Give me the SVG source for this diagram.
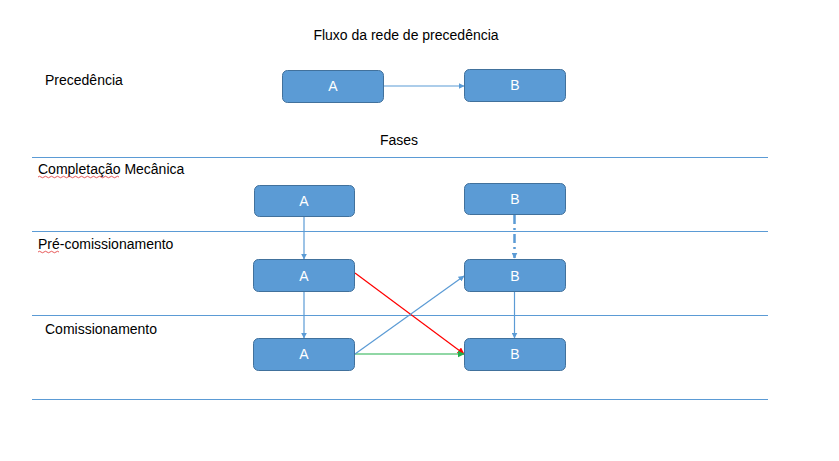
<svg xmlns="http://www.w3.org/2000/svg" width="839" height="461" viewBox="0 0 839 461">
<defs>
<style>
.box{fill:#5B9BD5;stroke:#41719C;stroke-width:1}
.bt{font-family:"Liberation Sans",Arial,sans-serif;font-size:14px;fill:#fff;text-anchor:middle}
.lbl{font-family:"Liberation Sans",Arial,sans-serif;font-size:14px;fill:#000}
.sep{stroke:#5B9BD5;stroke-width:1}
.conn{fill:none;stroke-width:1.2}
.dash{fill:none;stroke-width:2.5;stroke-dasharray:9,4,2,4}
.sq{fill:none;stroke:#E03030;stroke-width:0.8}
</style>
<marker id="ab" viewBox="0 0 10 10" refX="9" refY="5" markerWidth="6" markerHeight="6" orient="auto" markerUnits="userSpaceOnUse"><path d="M0,0 L10,5 L0,10 z" fill="#5B9BD5"/></marker>
<marker id="ar" viewBox="0 0 10 10" refX="9" refY="5" markerWidth="7" markerHeight="7" orient="auto" markerUnits="userSpaceOnUse"><path d="M0,0 L10,5 L0,10 z" fill="#FF0000"/></marker>
<marker id="ag" viewBox="0 0 10 10" refX="9" refY="5" markerWidth="7" markerHeight="7" orient="auto" markerUnits="userSpaceOnUse"><path d="M0,0 L10,5 L0,10 z" fill="#22B04C"/></marker>
</defs>
<rect width="839" height="461" fill="#fff"/>
<g id="labels">
<text class="lbl" x="406" y="40" text-anchor="middle">Fluxo da rede de precedência</text>
<text class="lbl" x="45" y="85">Precedência</text>
<text class="lbl" x="399" y="145" text-anchor="middle">Fases</text>
<text class="lbl" x="38" y="174">Completação Mecânica</text>
<text class="lbl" x="38" y="249">Pré-comissionamento</text>
<text class="lbl" x="45" y="334">Comissionamento</text>
<path class="sq" d="M38,177 q1.5,-1.5 3,0 t3,0 t3,0 t3,0 t3,0 t3,0 t3,0 t3,0 t3,0 t3,0 t3,0 t3,0 t3,0 t3,0 t3,0 t3,0 t3,0 t3,0 t3,0 t3,0 t3,0 t3,0 t3,0 t3,0 t3,0 t3,0 t3,0"/>
<path class="sq" d="M38,252 q1.5,-1.5 3,0 t3,0 t3,0 t3,0 t3,0 t3,0 t3,0"/>
</g>
<g id="separators">
<line class="sep" x1="32" y1="157.5" x2="768" y2="157.5"/>
<line class="sep" x1="32" y1="231.5" x2="768" y2="231.5"/>
<line class="sep" x1="32" y1="315.5" x2="768" y2="315.5"/>
<line class="sep" x1="32" y1="399.5" x2="768" y2="399.5"/>
</g>
<g id="connectors">
<line class="conn" stroke="#5B9BD5" x1="383" y1="86" x2="464" y2="86" marker-end="url(#ab)"/>
<line class="conn" stroke="#5B9BD5" x1="304" y1="216" x2="304" y2="259" marker-end="url(#ab)"/>
<line class="dash" stroke="#5B9BD5" x1="514.5" y1="215" x2="514.5" y2="258" marker-end="url(#ab)"/>
<line class="conn" stroke="#5B9BD5" x1="514.5" y1="291" x2="514.5" y2="338" marker-end="url(#ab)"/>
<line class="conn" stroke="#5B9BD5" x1="304" y1="291" x2="304" y2="338" marker-end="url(#ab)"/>
<line class="conn" stroke="#FF0000" x1="355" y1="273" x2="464" y2="354" marker-end="url(#ar)"/>
<line class="conn" stroke="#22B04C" x1="355" y1="354" x2="464" y2="354" marker-end="url(#ag)"/>
<line class="conn" stroke="#5B9BD5" x1="355" y1="354" x2="464" y2="276" marker-end="url(#ab)"/>
</g>
<g id="prec-A"><rect class="box" x="282.5" y="70.5" width="101" height="32" rx="5"/><text class="bt" x="333" y="91">A</text></g>
<g id="prec-B"><rect class="box" x="464.5" y="69.5" width="101" height="32" rx="5"/><text class="bt" x="515" y="90">B</text></g>
<g id="cm-A"><rect class="box" x="254.5" y="185.5" width="100" height="31" rx="5"/><text class="bt" x="304" y="206">A</text></g>
<g id="cm-B"><rect class="box" x="464.5" y="183.5" width="101" height="31" rx="5"/><text class="bt" x="515" y="204">B</text></g>
<g id="pre-A"><rect class="box" x="253.5" y="259.5" width="101" height="32" rx="5"/><text class="bt" x="304" y="281">A</text></g>
<g id="pre-B"><rect class="box" x="464.5" y="259.5" width="101" height="32" rx="5"/><text class="bt" x="515" y="281">B</text></g>
<g id="com-A"><rect class="box" x="253.5" y="338.5" width="101" height="32" rx="5"/><text class="bt" x="304" y="359">A</text></g>
<g id="com-B"><rect class="box" x="464.5" y="338.5" width="101" height="32" rx="5"/><text class="bt" x="515" y="359">B</text></g>
</svg>
